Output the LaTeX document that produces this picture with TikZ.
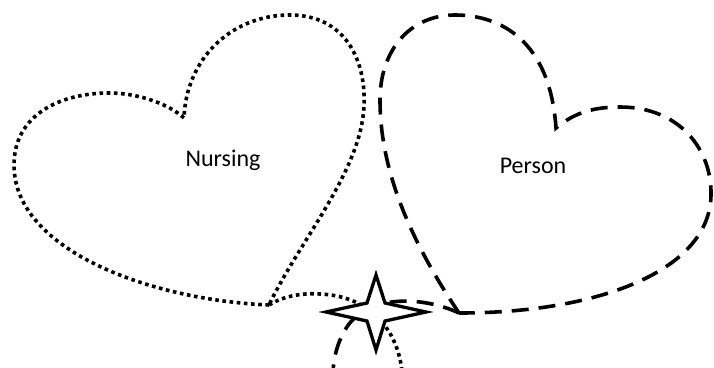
\documentclass[tikz,border=0pt]{standalone}
\usepackage{fontspec}
\setmainfont{Carlito}
\begin{document}
\begin{tikzpicture}[x=1pt,y=-1pt,
  dotline/.style={line width=3.6pt, dash pattern=on 3.6pt off 3.6pt},
  dashline/.style={line width=3.6pt, dash pattern=on 17pt off 10pt},
  heartlabel/.style={font=\fontsize{24}{28}\selectfont, inner sep=0pt},
  sparkle/.style={draw=black, fill=white, line width=3.3pt, line join=miter}]
\useasboundingbox[fill=white] (0,0) rectangle (714,367);

% key points of the two hearts
\coordinate (ntip) at (269,305);
\coordinate (nleft) at (14,165);
\coordinate (nlobeL) at (109,93);
\coordinate (ncusp) at (184,118);
\coordinate (nlobeR) at (290,15);
\coordinate (nright) at (364,105);
\coordinate (nend) at (402,372);

\coordinate (ptip) at (459,313);
\coordinate (pleft) at (380,100);
\coordinate (plobeL) at (455,15);
\coordinate (pcusp) at (556,128);
\coordinate (plobeR) at (620,107);
\coordinate (pright) at (711,195);
\coordinate (pend) at (333,372);

% Nursing heart (dotted)
\draw[dotline] (ntip) .. controls (150,300) and (14,250) .. (nleft)
  .. controls (14,115) and (60,93) .. (nlobeL)
  .. controls (140,93) and (170,105) .. (ncusp)
  .. controls (186,60) and (230,15) .. (nlobeR)
  .. controls (345,15) and (366,60) .. (nright)
  .. controls (362,170) and (300,240) .. (ntip);
% its tail running down past the sparkle
\draw[dotline] (ntip) .. controls (285,295) and (305,293) .. (320,294)
  .. controls (370,296) and (398,330) .. (nend);

% Person heart (dashed)
\draw[dashline] (ptip) .. controls (410,240) and (380,170) .. (pleft)
  .. controls (380,50) and (410,15) .. (plobeL)
  .. controls (500,15) and (550,40) .. (pcusp)
  .. controls (575,112) and (595,107) .. (plobeR)
  .. controls (680,107) and (712,150) .. (pright)
  .. controls (710,270) and (600,313) .. (ptip);
% its tail running down past the sparkle
\draw[dashline] (ptip) .. controls (420,295) and (365,295) .. (345,330)
  .. controls (338,342) and (334,355) .. (pend);

% four-pointed sparkle where the tails cross
\begin{scope}[shift={(376,312)}]
  \coordinate (spark) at (0,0);
  \draw[sparkle] (0,-37) -- (9,-9) -- (50,0) -- (9,9) -- (0,38)
    -- (-9,9) -- (-50,0) -- (-9,-9) -- cycle;
\end{scope}

% labels
\node[heartlabel] (nursing) at (223,160) {Nursing};
\node[heartlabel] (person) at (533,166) {Person};
\end{tikzpicture}
\end{document}
